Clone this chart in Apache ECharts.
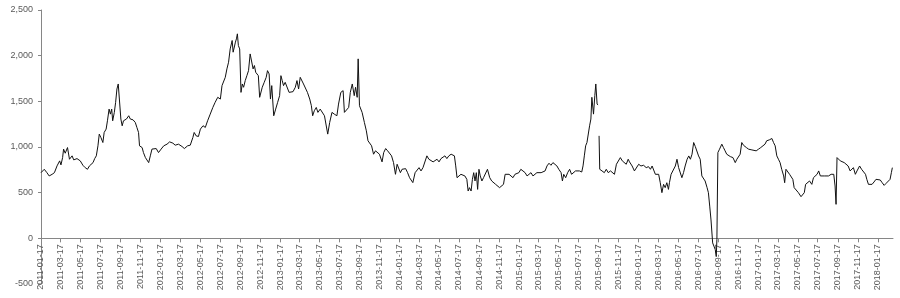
<!DOCTYPE html>
<html><head><meta charset="utf-8">
<script src="https://cdn.jsdelivr.net/npm/echarts@6/dist/echarts.min.js"></script>
<style>html,body{margin:0;padding:0;background:#fff}#c{width:900px;height:298px}</style>
</head><body><div id="c"></div>
<script>
// x axis: calendar days from startDate, ticks/labels on the 17th of odd months
const startDate = '2011-01-17';
const endDate = '2018-03-04';
const yTicks = [-500, 0, 500, 1000, 1500, 2000, 2500];

// days since startDate
const dayOffset = [0,10,18,25,34,41,49,57,61,66,69,74,81,87,95,100,110,120,128,135,142,148,154,159,164,169,174,178,183,189,193,199,203,208,212,216,219,224,228,232,236,242,244,248,252,261,268,273,281,288,293,298,301,309,313,319,324,329,334,339,344,352,359,367,375,385,393,403,410,420,431,438,448,456,464,468,474,481,487,495,502,509,517,525,532,540,548,553,558,563,568,573,578,584,587,591,594,597,600,603,607,611,615,619,624,629,634,639,645,648,652,656,660,664,668,672,676,682,688,692,697,701,705,711,717,723,729,733,737,741,746,752,758,764,770,777,782,787,792,797,802,808,814,821,826,830,835,841,846,853,859,866,872,876,882,889,896,904,909,916,923,927,933,940,945,951,957,961,966,969,973,981,988,994,999,1004,1010,1016,1022,1028,1034,1042,1047,1053,1059,1065,1071,1077,1083,1088,1093,1098,1103,1108,1114,1120,1126,1132,1136,1143,1149,1155,1161,1167,1173,1179,1185,1191,1198,1204,1210,1216,1222,1228,1234,1240,1246,1253,1259,1263,1267,1271,1277,1283,1289,1295,1301,1305,1309,1314,1318,1322,1326,1330,1334,1338,1342,1347,1352,1358,1364,1371,1377,1383,1389,1395,1401,1407,1413,1418,1424,1430,1436,1442,1448,1454,1460,1466,1472,1479,1485,1491,1497,1503,1509,1515,1521,1528,1534,1540,1546,1552,1558,1564,1570,1576,1582,1589,1593,1597,1603,1609,1615,1621,1627,1633,1639,1645,1652,1656,1660,1664,1668,1672,1676,1680,1683,1688,1692,1695,1699,1702,1703,1705,1707,1714,1721,1727,1733,1740,1746,1752,1758,1764,1770,1776,1782,1788,1794,1798,1806,1813,1819,1826,1833,1841,1849,1856,1862,1867,1877,1882,1887,1892,1897,1902,1907,1912,1917,1920,1925,1931,1938,1943,1948,1953,1958,1963,1968,1974,1979,1984,1989,1994,1999,2004,2009,2014,2019,2024,2029,2035,2039,2043,2047,2050,2052,2055,2060,2063,2065,2068,2073,2080,2085,2090,2095,2100,2106,2114,2121,2126,2131,2136,2141,2146,2155,2162,2167,2172,2177,2185,2192,2199,2205,2212,2217,2225,2233,2238,2243,2248,2253,2258,2263,2269,2272,2276,2281,2287,2291,2297,2301,2307,2314,2322,2328,2332,2336,2342,2348,2355,2360,2366,2371,2376,2381,2387,2393,2399,2406,2414,2422,2426,2429,2432,2437,2442,2448,2454,2460,2466,2472,2477,2482,2488,2493,2501,2507,2513,2519,2523,2528,2533,2539,2545,2551,2557,2564,2570,2576,2582,2588,2594,2598,2601];

const price = [719,756,719,683,701,719,793,848,804,884,977,932,994,866,903,859,873,848,800,774,756,793,774,829,873,903,1013,1141,1104,1049,1159,1196,1287,1415,1360,1415,1287,1379,1489,1635,1690,1690,1306,1232,1287,1306,1342,1306,1298,1269,1214,1159,1013,994,939,884,866,829,903,977,958,983,939,977,1013,1031,1056,1042,1020,1031,1005,983,1013,1020,1104,1159,1122,1115,1196,1233,1214,1287,1360,1433,1489,1544,1525,1672,1690,1763,1855,1928,2074,2166,2038,2019,2148,2184,2239,2111,2074,1598,1690,1654,1727,1781,1836,2019,2030,1855,1892,1818,1836,1781,1544,1525,1654,1708,1763,1836,1800,1525,1672,1342,1415,1489,1562,1781,1727,1672,1708,1690,1598,1617,1606,1654,1727,1635,1763,1745,1690,1672,1598,1525,1452,1342,1397,1433,1379,1415,1397,1342,1324,1141,1269,1379,1360,1342,1470,1598,1617,1379,1360,1433,1598,1690,1562,1654,1544,1965,1452,1379,1269,1177,1068,1049,1013,921,958,939,921,837,939,983,958,939,903,829,701,811,811,719,756,738,763,719,664,646,610,719,738,774,738,774,793,903,866,848,837,848,866,837,873,884,903,873,903,921,939,903,793,664,664,701,719,683,646,518,555,518,646,719,628,719,536,756,683,628,664,683,756,664,628,610,591,591,555,573,591,701,719,701,683,664,701,683,719,756,774,719,683,701,719,683,701,719,738,719,726,738,793,822,800,829,811,793,756,719,628,701,664,719,756,701,719,738,719,738,726,793,903,1013,1049,1031,1232,1306,1544,1360,1562,1690,1470,1459,null,1122,756,738,719,756,719,738,719,701,811,829,884,848,829,811,866,837,792,738,719,811,792,800,774,785,756,792,701,683,701,609,500,591,555,609,536,609,701,719,792,866,775,756,664,719,792,866,902,866,921,1049,1005,1013,902,866,683,664,628,555,500,353,201,220,-50,-37,-124,-200,-13,939,976,1031,994,958,921,939,895,884,829,866,873,921,1049,1020,994,976,994,968,983,958,976,994,976,1031,1068,1078,1093,1049,1013,903,866,829,756,683,609,756,738,701,683,646,555,536,500,456,445,500,591,580,628,591,664,646,701,738,683,701,683,701,683,701,701,573,372,884,866,848,855,829,811,792,738,756,774,701,738,792,756,738,701,646,591,573,591,617,646,664,639,609,580,602,617,646,719,774];

function fmt(d){const p=n=>String(n).padStart(2,'0');return d.getUTCFullYear()+'-'+p(d.getUTCMonth()+1)+'-'+p(d.getUTCDate());}
const categories = [];
for (let t = Date.parse(startDate+'T00:00:00Z'); t <= Date.parse(endDate+'T00:00:00Z'); t += 86400000) categories.push(fmt(new Date(t)));
const isTick = (i, v) => v.slice(8) === '17' && parseInt(v.slice(5,7),10) % 2 === 1;

const seriesData = dayOffset.map((d, i) => [d, price[i] === null ? '-' : price[i]]);

const H = 298, TOP = 10, BOTTOM = 14;
const yMin = yTicks[0], yMax = yTicks[yTicks.length-1];
// shift the category axis up so it sits on the zero line (like onZero)
const zeroShift = -((0 - yMin) / (yMax - yMin)) * (H - TOP - BOTTOM);

const chart = echarts.init(document.getElementById('c'), null, {renderer:'canvas'});
chart.setOption({
  animation: false,
  backgroundColor: '#fff',
  grid: {left: 41, right: 7, top: TOP, bottom: BOTTOM, containLabel: false, outerBoundsMode: 'none'},
  xAxis: {
    type: 'category', data: categories, boundaryGap: false, offset: zeroShift,
    axisLine: {onZero: false, lineStyle: {color: '#868686', width: 1}},
    axisTick: {show: true, interval: isTick, length: 4, lineStyle: {color: '#868686'}},
    axisLabel: {interval: isTick, rotate: 90, margin: 6, fontSize: 9, color: '#595959', fontFamily: 'Liberation Sans'},
    splitLine: {show: false}
  },
  yAxis: {
    type: 'value', min: yMin, max: yMax, interval: 500,
    axisLine: {show: true, lineStyle: {color: '#868686', width: 1}},
    axisTick: {show: true, length: 3, lineStyle: {color: '#868686'}},
    axisLabel: {margin: 8, fontSize: 9, color: '#595959', fontFamily: 'Liberation Sans',
      formatter: v => v.toLocaleString('en-US')},
    splitLine: {show: false}
  },
  series: [{
    type: 'line', data: seriesData, showSymbol: false, connectNulls: false,
    lineStyle: {color: '#111', width: 1}
  }]
});
</script></body></html>
